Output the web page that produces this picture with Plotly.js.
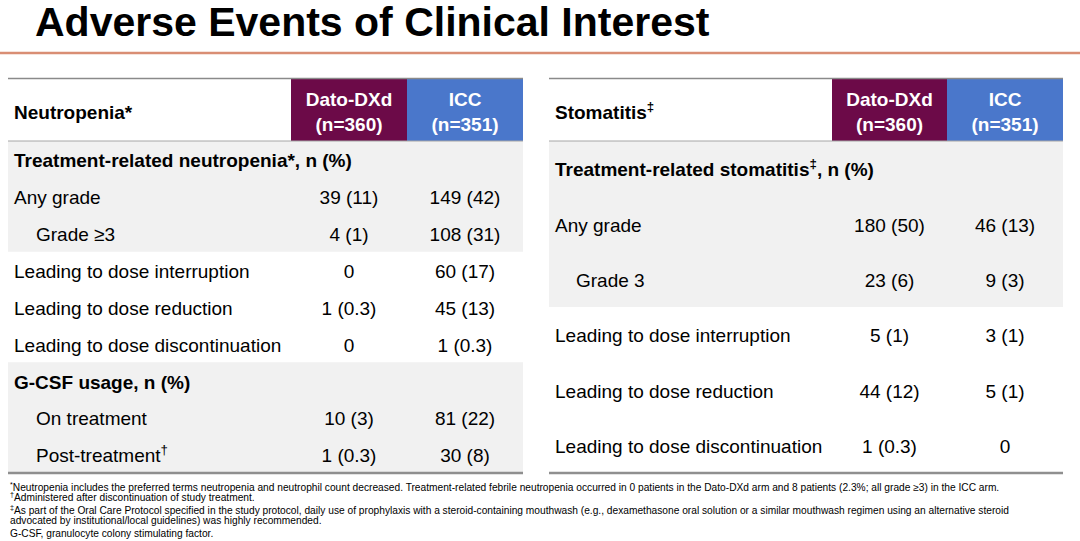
<!DOCTYPE html>
<html>
<head>
<meta charset="utf-8">
<script src="https://cdn.plot.ly/plotly-3.0.1.min.js"></script>
<style>html,body{margin:0;padding:0;background:#fff;}#chart{width:1080px;height:541px;}</style>
</head>
<body>
<div id="chart"></div>
<script>
// ---------- DATA ----------
const chartTitle = 'Adverse Events of Clinical Interest';
const armNames = ['Dato-DXd', 'ICC'];
const armN = [360, 351];

const leftHeader = 'Neutropenia*';
const leftLabels = ['Treatment-related neutropenia*, n (%)', 'Any grade', 'Grade ≥3',
  'Leading to dose interruption', 'Leading to dose reduction', 'Leading to dose discontinuation',
  'G-CSF usage, n (%)', 'On treatment', 'Post-treatment<sup>†</sup>'];
const leftRowType = ['section', 'item', 'sub', 'item', 'item', 'item', 'section', 'sub', 'sub'];
const leftDatoN   = [null, 39, 4, 0, 1, 0, null, 10, 1];
const leftDatoPct = [null, 11, 1, null, 0.3, null, null, 3, 0.3];
const leftIccN    = [null, 149, 108, 60, 45, 1, null, 81, 30];
const leftIccPct  = [null, 42, 31, 17, 13, 0.3, null, 22, 8];

const rightHeader = 'Stomatitis<sup>‡</sup>';
const rightLabels = ['Treatment-related stomatitis<sup>‡</sup>, n (%)', 'Any grade', 'Grade 3',
  'Leading to dose interruption', 'Leading to dose reduction', 'Leading to dose discontinuation'];
const rightRowType = ['section', 'item', 'sub', 'item', 'item', 'item'];
const rightDatoN   = [null, 180, 23, 5, 44, 1];
const rightDatoPct = [null, 50, 6, 1, 12, 0.3];
const rightIccN    = [null, 46, 9, 3, 5, 0];
const rightIccPct  = [null, 13, 3, 1, 1, null];

const footnotes = [
  '<sup>*</sup>Neutropenia includes the preferred terms neutropenia and neutrophil count decreased. Treatment-related febrile neutropenia occurred in 0 patients in the Dato-DXd arm and 8 patients (2.3%; all grade ≥3) in the ICC arm.',
  '<sup>†</sup>Administered after discontinuation of study treatment.',
  '<sup>‡</sup>As part of the Oral Care Protocol specified in the study protocol, daily use of prophylaxis with a steroid-containing mouthwash (e.g., dexamethasone oral solution or a similar mouthwash regimen using an alternative steroid',
  'advocated by institutional/local guidelines) was highly recommended.',
  'G-CSF, granulocyte colony stimulating factor.'
];

// ---------- STYLE / LAYOUT ----------
const FONT = '"Liberation Sans", Arial, sans-serif';
const PURPLE = '#6c0a48';
const BLUE = '#4a77cb';
const GRAY = '#f1f1f1';
const TXT = 19;
const fmt = (n, p) => n === null ? '' : (p === null ? String(n) : n + ' (' + p + ')');

const tables = [
  {x0: 8, x1: 523, c1: 291, c2: 407, top: 78.5, head: 141, bottom: 473, labelX: 14, indentX: 36,
   header: leftHeader, labels: leftLabels, types: leftRowType,
   dato: leftDatoN.map((n, i) => fmt(n, leftDatoPct[i])), icc: leftIccN.map((n, i) => fmt(n, leftIccPct[i]))},
  {x0: 549, x1: 1063, c1: 832, c2: 947, top: 78.5, head: 141, bottom: 473, labelX: 555, indentX: 576,
   header: rightHeader, labels: rightLabels, types: rightRowType,
   dato: rightDatoN.map((n, i) => fmt(n, rightDatoPct[i])), icc: rightIccN.map((n, i) => fmt(n, rightIccPct[i]))}
];

const traces = [];
const shapes = [];
const annotations = [];

// title rule
shapes.push({type: 'line', xref: 'x', yref: 'y', x0: 0, x1: 1080, y0: 53, y1: 53, line: {color: '#d98e74', width: 2.5}});

function valueTrace(vals, xc, yc) {
  const idx = vals.map((v, i) => i).filter(i => vals[i] !== '');
  return {type: 'scatter', mode: 'text',
    x: idx.map(() => xc), y: idx.map(i => yc(i)),
    text: idx.map(i => vals[i]), textposition: 'middle center',
    textfont: {family: FONT, size: TXT, color: '#000'}, hoverinfo: 'skip', showlegend: false};
}

tables.forEach(t => {
  const n = t.labels.length;
  const rh = (t.bottom - t.head) / n;
  const yc = i => t.head + rh * (i + 0.5) + 3;
  // bands
  for (let b = 0; b < n; b += 3) {
    if ((b / 3) % 2 === 0) {
      shapes.push({type: 'rect', xref: 'x', yref: 'y', layer: 'below', x0: t.x0, x1: t.x1,
        y0: t.head + rh * b, y1: t.head + rh * Math.min(b + 3, n), fillcolor: GRAY, line: {width: 0}});
    }
  }
  // header cells
  shapes.push({type: 'rect', xref: 'x', yref: 'y', layer: 'below', x0: t.c1, x1: t.c2, y0: t.top, y1: t.head, fillcolor: PURPLE, line: {width: 0}});
  shapes.push({type: 'rect', xref: 'x', yref: 'y', layer: 'below', x0: t.c2, x1: t.x1, y0: t.top, y1: t.head, fillcolor: BLUE, line: {width: 0}});
  // rules
  shapes.push({type: 'line', xref: 'x', yref: 'y', x0: t.x0, x1: t.x1, y0: t.top, y1: t.top, line: {color: '#8a8a8a', width: 1.5}});
  shapes.push({type: 'line', xref: 'x', yref: 'y', x0: t.x0, x1: t.x1, y0: t.head, y1: t.head, line: {color: '#a6a6a6', width: 1}});
  shapes.push({type: 'line', xref: 'x', yref: 'y', x0: t.x0, x1: t.x1, y0: t.bottom, y1: t.bottom, line: {color: '#8f8f8f', width: 2.5}});

  const hy = (t.top + t.head) / 2 + 4;
  // header texts
  traces.push({type: 'scatter', mode: 'text', x: [t.labelX], y: [hy],
    text: ['<b>' + t.header + '</b>'], textposition: 'middle right',
    textfont: {family: FONT, size: TXT, color: '#000'}, hoverinfo: 'skip', showlegend: false});
  traces.push({type: 'scatter', mode: 'text', x: [(t.c1 + t.c2) / 2, (t.c2 + t.x1) / 2], y: [hy, hy],
    text: armNames.map((a, i) => '<b>' + a + '<br>(n=' + armN[i] + ')</b>'), textposition: 'middle center',
    textfont: {family: FONT, size: TXT, color: '#fff'}, hoverinfo: 'skip', showlegend: false});

  // row labels
  traces.push({type: 'scatter', mode: 'text',
    x: t.types.map(tp => tp === 'sub' ? t.indentX : t.labelX),
    y: t.labels.map((_, i) => yc(i)),
    text: t.labels.map((l, i) => t.types[i] === 'section' ? '<b>' + l + '</b>' : l),
    textposition: 'middle right',
    textfont: {family: FONT, size: TXT, color: '#000'}, hoverinfo: 'skip', showlegend: false});
  // values
  traces.push(valueTrace(t.dato, (t.c1 + t.c2) / 2, yc));
  traces.push(valueTrace(t.icc, (t.c2 + t.x1) / 2, yc));
});

// footnotes
const footY = [486.5, 497, 510, 520.5, 533.5];
footnotes.forEach((f, i) => {
  annotations.push({xref: 'x', yref: 'y', x: 8, y: footY[i], xanchor: 'left', yanchor: 'middle',
    text: f, showarrow: false, font: {family: FONT, size: 10.2, color: '#000'}});
});

const layout = {
  width: 1080, height: 541,
  margin: {l: 0, r: 0, t: 0, b: 0},
  paper_bgcolor: '#fff', plot_bgcolor: '#fff',
  title: {text: '<b>' + chartTitle + '</b>', xref: 'paper', x: 35 / 1080, xanchor: 'left',
    yref: 'container', y: 1 - 22 / 541, yanchor: 'middle',
    font: {family: FONT, size: 41, color: '#000'}},
  xaxis: {range: [0, 1080], visible: false, fixedrange: true},
  yaxis: {range: [541, 0], visible: false, fixedrange: true},
  shapes: shapes,
  annotations: annotations,
  showlegend: false
};

Plotly.newPlot('chart', traces, layout, {displayModeBar: false, staticPlot: true});
</script>
</body>
</html>
